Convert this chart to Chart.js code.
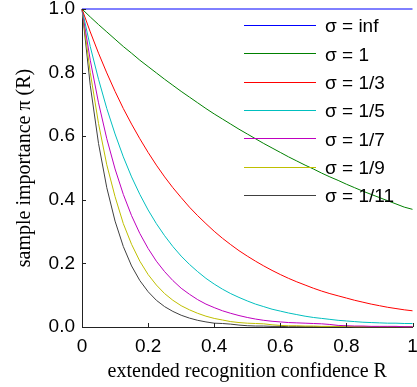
<!DOCTYPE html>
<html><head><meta charset="utf-8">
<script src="https://cdn.jsdelivr.net/npm/chart.js@4.4.1/dist/chart.umd.min.js"></script>
<style>html,body{margin:0;padding:0;background:#fff;overflow:hidden;}</style>
</head><body>
<canvas id="c" width="417" height="387" style="display:block;width:417px;height:387px"></canvas>
<script>
// Extended recognition confidence R (x values)
const R = [0, .025, .05, .075, .1, .125, .15, .175, .2, .225, .25, .275, .3, .325, .35, .375, .4, .425, .45, .475, .5,
           .525, .55, .575, .6, .625, .65, .675, .7, .725, .75, .775, .8, .825, .85, .875, .9, .925, .95, .975, 1];
const R_inf = [0, 1];
const pi_inf = [1, 1];
const pi_1 = [1, .975, .951, .928, .905, .882, .861, .839, .819, .799, .779, .760, .741, .723, .705, .687, .670, .654, .638, .622, .607,
              .592, .577, .563, .549, .535, .522, .509, .497, .484, .472, .461, .449, .438, .427, .417, .407, .397, .387, .377, .370];
const pi_1_3 = [1, .928, .861, .799, .741, .687, .638, .592, .549, .509, .472, .438, .407, .377, .350, .325, .301, .279, .259, .240, .223,
                .207, .192, .178, .165, .153, .142, .132, .122, .113, .105, .098, .091, .084, .078, .072, .067, .062, .058, .054, .051];
const pi_1_5 = [1, .882, .779, .687, .607, .535, .472, .417, .368, .325, .287, .253, .223, .197, .174, .153, .135, .119, .105, .093, .082,
                .072, .064, .056, .050, .044, .039, .034, .030, .027, .024, .021, .019, .017, .015, .014, .013, .012, .012, .011, .011];
const pi_1_7 = [1, .839, .705, .592, .497, .417, .350, .294, .247, .207, .174, .146, .122, .103, .086, .072, .061, .051, .043, .036, .030,
                .025, .021, .018, .016, .014, .013, .012, .011, .010, .008, .005, .004, .003, .003, .002, .002, .002, .002, .001, .001];
const pi_1_9 = [1, .800, .640, .510, .410, .325, .260, .207, .165, .132, .105, .084, .067, .054, .043, .034, .027, .022, .017, .014, .012,
                .011, .010, .007, .005, .004, .004, .003, .003, .002, .002, .002, .002, .001, .001, .001, .001, .001, .001, .001, .001];
const pi_1_11 = [1, .760, .577, .438, .333, .253, .192, .146, .111, .084, .064, .049, .037, .028, .021, .016, .012, .011, .009, .006, .004,
                 .003, .003, .002, .002, .001, .001, .001, .001, .001, .001, .001, .001, .001, .001, .001, .001, .001, .001, .001, .001];

const seriesLabels = ['σ = inf', 'σ = 1', 'σ = 1/3', 'σ = 1/5', 'σ = 1/7', 'σ = 1/9', 'σ = 1/11'];
const seriesColors = ['#0000ff', '#008000', '#ff0000', '#00bfbf', '#bf00bf', '#bfbf00', '#404040'];
const xTickLabels = ['0', '0.2', '0.4', '0.6', '0.8', '1'];
const yTickLabels = ['0.0', '0.2', '0.4', '0.6', '0.8', '1.0'];
const xTitle = 'extended recognition confidence R';
const yTitle = 'sample importance π (R)';

const seriesX = [R_inf, R, R, R, R, R, R];
const seriesY = [pi_inf, pi_1, pi_1_3, pi_1_5, pi_1_7, pi_1_9, pi_1_11];

const datasets = seriesY.map((ys, k) => ({
  label: seriesLabels[k],
  data: ys.map((v, i) => ({x: seriesX[k][i], y: v})),
  borderColor: seriesColors[k],
  backgroundColor: seriesColors[k],
  borderWidth: 1,
  pointRadius: 0,
  tension: 0,
  fill: false,
  clip: false
}));

const inwardTicks = {
  id: 'inwardTicks',
  afterDraw(chart) {
    const {ctx, chartArea: a, scales: {x, y}} = chart;
    ctx.save();
    ctx.strokeStyle = '#222';
    ctx.lineWidth = 1;
    ctx.beginPath();
    x.ticks.forEach(t => {
      const px = Math.round(x.getPixelForValue(t.value)) + 0.5;
      ctx.moveTo(px, a.bottom); ctx.lineTo(px, a.bottom - 4);
    });
    y.ticks.forEach(t => {
      const py = Math.round(y.getPixelForValue(t.value)) + 0.5;
      ctx.moveTo(a.left, py); ctx.lineTo(a.left + 4, py);
    });
    ctx.stroke();
    ctx.restore();
  }
};

const innerLegend = {
  id: 'innerLegend',
  afterDatasetsDraw(chart) {
    const ctx = chart.ctx;
    ctx.save();
    ctx.font = '19px "Liberation Sans", Arial, sans-serif';
    ctx.textBaseline = 'middle';
    ctx.textAlign = 'left';
    chart.data.datasets.forEach((ds, i) => {
      const yy = 25 + i * 28.33;
      ctx.strokeStyle = ds.borderColor;
      ctx.lineWidth = 1;
      ctx.beginPath();
      ctx.moveTo(244, Math.round(yy) + 0.5);
      ctx.lineTo(316, Math.round(yy) + 0.5);
      ctx.stroke();
      ctx.fillStyle = '#000';
      ctx.fillText(ds.label, 325, yy + 2);
    });
    ctx.restore();
  }
};

new Chart(document.getElementById('c'), {
  type: 'line',
  data: {datasets},
  options: {
    responsive: false,
    animation: false,
    layout: {padding: {top: 9, right: 4.5, left: 0, bottom: 0}},
    plugins: {legend: {display: false}, tooltip: {enabled: false}},
    scales: {
      x: {
        type: 'linear', min: 0, max: 1,
        ticks: {
          stepSize: 0.2, autoSkip: false, maxRotation: 0, padding: 8, color: '#000',
          font: {family: '"Liberation Sans", Arial, sans-serif', size: 19},
          callback: (v, i) => xTickLabels[i]
        },
        grid: {drawOnChartArea: false, drawTicks: false},
        border: {color: '#222', width: 1},
        title: {display: true, text: xTitle, color: '#000',
                font: {family: '"Liberation Serif", "Times New Roman", serif', size: 20, lineHeight: 1.2},
                padding: {top: 0, bottom: 3}},
        afterFit(s) { s.height = 60; s.paddingLeft = 0; s.paddingRight = 0; }
      },
      y: {
        type: 'linear', min: 0, max: 1,
        ticks: {
          stepSize: 0.2, autoSkip: false, padding: 7, color: '#000',
          font: {family: '"Liberation Sans", Arial, sans-serif', size: 19},
          callback: (v, i) => yTickLabels[i]
        },
        grid: {drawOnChartArea: false, drawTicks: false},
        border: {color: '#222', width: 1},
        title: {display: true, text: yTitle, color: '#000',
                font: {family: '"Liberation Serif", "Times New Roman", serif', size: 20, lineHeight: 1.2},
                padding: {top: 13, bottom: 0}},
        afterFit(s) { s.width = 82; s.paddingTop = 0; s.paddingBottom = 0; }
      }
    }
  },
  plugins: [inwardTicks, innerLegend]
});
</script>
</body></html>
